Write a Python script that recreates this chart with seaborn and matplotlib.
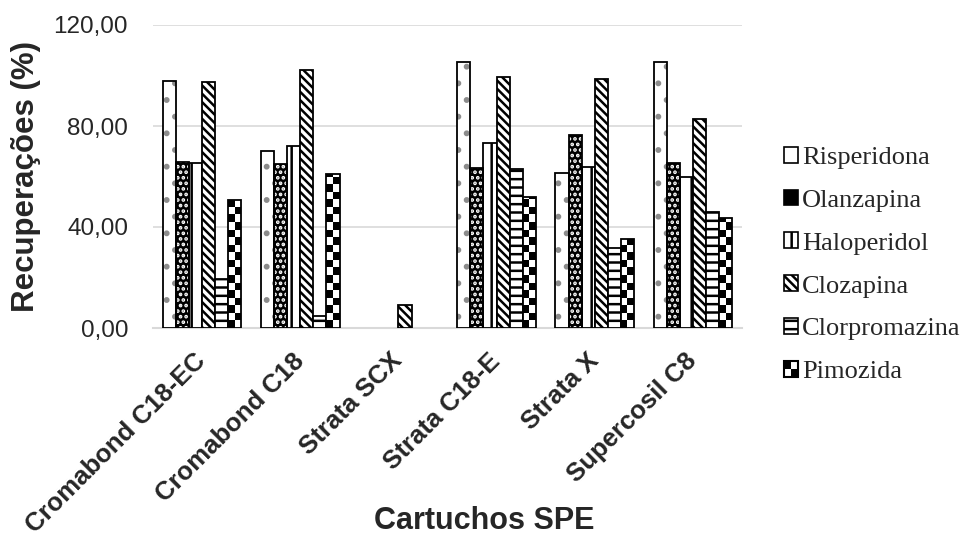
import numpy as np
import pandas as pd
import matplotlib
matplotlib.use("Agg")
import matplotlib.pyplot as plt
import matplotlib.patches as mpatches
from matplotlib.legend_handler import HandlerBase
import seaborn as sns

cartuchos = ["Cromabond C18-EC", "Cromabond C18", "Strata SCX",
             "Strata C18-E", "Strata X", "Supercosil C8"]
farmacos = ["Risperidona", "Olanzapina", "Haloperidol",
            "Clozapina", "Clorpromazina", "Pimozida"]
risperidona = [98.0, 70.0, 0.0, 105.2, 61.5, 105.5]
olanzapina = [65.9, 64.8, 0.0, 63.5, 76.6, 65.5]
haloperidol = [65.2, 72.2, 0.0, 73.3, 63.8, 59.7]
clozapina = [97.3, 102.0, 9.0, 99.5, 98.6, 82.9]
clorpromazina = [19.3, 4.8, 0.0, 63.0, 31.6, 45.8]
pimozida = [50.7, 60.9, 0.0, 51.9, 35.2, 43.4]
yticks = [0, 40, 80, 120]
ytick_labels = ["0,00", "40,00", "80,00", "120,00"]

series = [risperidona, olanzapina, haloperidol, clozapina, clorpromazina, pimozida]
rows = []
for f, vals in zip(farmacos, series):
    for c, v in zip(cartuchos, vals):
        rows.append({"Cartucho": c, "Fármaco": f, "Valor": v})
df = pd.DataFrame(rows)

sns.set_style("white")
plt.rcParams["font.family"] = ["Liberation Sans", "DejaVu Sans"]
plt.rcParams["hatch.linewidth"] = 1.8

fig = plt.figure(figsize=(9.68, 5.38), dpi=100)
ax = fig.add_axes([153 / 968, 1 - 328 / 538, (742 - 153) / 968, (328 - 25) / 538])

sns.barplot(data=df, x="Cartucho", y="Valor", hue="Fármaco", order=cartuchos,
            hue_order=farmacos, width=0.8, gap=0, errorbar=None, legend=False,
            palette=["white"] * 6, ax=ax)

styles = [
    dict(fc="white", ec="#8c8c8c", hatch=".", lw=0, outline=True),
    dict(fc="black", ec="white", hatch="...", lw=0, outline=True),
    dict(fc="white", ec="black", hatch="|", lw=1.3, outline=False),
    dict(fc="white", ec="black", hatch="\\\\\\\\", lw=1.3, outline=False),
    dict(fc="white", ec="black", hatch="--", lw=1.3, outline=False),
    dict(fc="white", ec="black", hatch=None, lw=1.3, outline=False),
]

for i, cont in enumerate(ax.containers):
    st = styles[i]
    for p in cont.patches:
        if p.get_height() == 0:
            p.set_visible(False)
            continue
        p.set_facecolor(st["fc"])
        p.set_edgecolor(st["ec"])
        p.set_linewidth(st["lw"])
        if st["hatch"]:
            p.set_hatch(st["hatch"])
        p.set_zorder(2)
        if st["outline"]:
            outline = mpatches.Rectangle((p.get_x(), 0), p.get_width(), p.get_height(),
                                         fc="none", ec="black", lw=1.3, zorder=2.5)
            ax.add_patch(outline)
        if i == 5:
            x0, w, h = p.get_x(), p.get_width(), p.get_height()
            step = 3.0
            n = int(np.ceil(h / step))
            for r in range(n):
                y0 = r * step
                hh = min(step, h - y0)
                for c in range(2):
                    col = "black" if (r + c) % 2 == 0 else "white"
                    ax.add_patch(mpatches.Rectangle((x0 + c * w / 2, y0), w / 2, hh,
                                                    fc=col, lw=0, zorder=2.1))
            p.set_facecolor("none")
            p.set_zorder(2.5)

ax.set_ylim(0, 120)
ax.set_xlim(-0.5, 5.5)
ax.set_yticks(yticks)
ax.set_yticklabels(ytick_labels, fontsize=17.5)
ax.yaxis.grid(True, color="#d9d9d9", lw=1.2)
ax.set_axisbelow(True)
for s in ["top", "right", "left"]:
    ax.spines[s].set_visible(False)
ax.spines["bottom"].set_color("#d9d9d9")
ax.spines["bottom"].set_linewidth(1.5)
ax.spines["bottom"].set_zorder(1)
ax.tick_params(axis="both", length=0)
ax.tick_params(axis="y", pad=18)
ax.tick_params(axis="x", pad=21)

ax.set_xticks(range(len(cartuchos)))
ax.set_xticklabels(cartuchos, rotation=45, ha="right", va="center",
                   rotation_mode="anchor", fontsize=18.5, fontweight="bold")

ax.set_xlabel("Cartuchos SPE", fontsize=22, fontweight="bold", va="center")
ax.xaxis.set_label_coords((484 - 153) / 589, (328 - 521) / 303)
ax.set_ylabel("Recuperações (%)", fontsize=22.5, fontweight="bold", va="center", ha="center")
ax.yaxis.set_label_coords((26 - 153) / 589, 0.5)


class CheckerHandler(HandlerBase):
    def create_artists(self, legend, orig_handle, xdescent, ydescent, width, height, fontsize, trans):
        arts = []
        w2, h2 = width / 2, height / 2
        for r in range(2):
            for c in range(2):
                col = "black" if (r + c) % 2 == 1 else "white"
                arts.append(mpatches.Rectangle((-xdescent + c * w2, -ydescent + r * h2), w2, h2,
                                               fc=col, lw=0, transform=trans))
        arts.append(mpatches.Rectangle((-xdescent, -ydescent), width, height, fc="none",
                                       ec="black", lw=1.5, transform=trans))
        return arts


handles = []
for i, f in enumerate(farmacos):
    st = styles[i]
    if i == 1:
        h = mpatches.Patch(fc="black", ec="black", lw=1.2, label=f)
    elif i == 5:
        h = mpatches.Patch(fc="white", ec="black", label=f)
    elif i == 0:
        h = mpatches.Patch(fc="white", ec="black", lw=1.2, label=f)
    else:
        h = mpatches.Patch(fc="white", ec="black", hatch=st["hatch"], lw=1.2, label=f)
    handles.append(h)

fig.legend(handles=handles, loc="center left", bbox_to_anchor=(760 / 968, 1 - 265 / 538),
           frameon=False, prop={"family": "Liberation Serif", "size": 19},
           handlelength=0.55, handleheight=0.55, handletextpad=0.15, labelspacing=0.78,
           handler_map={handles[5]: CheckerHandler()})

fig.savefig("out.png", dpi=100)
